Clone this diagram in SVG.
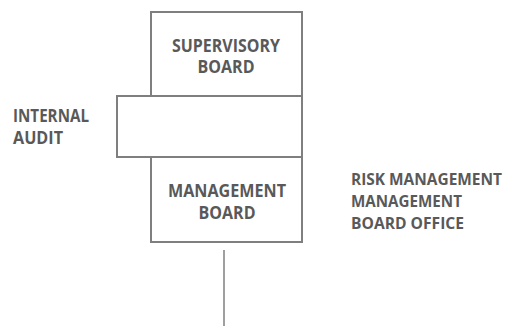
<svg xmlns="http://www.w3.org/2000/svg" width="510" height="326" viewBox="0 0 510 326">
  <style>
    .box { fill: #ffffff; stroke: #7f7f7f; stroke-width: 2; }
    .lbl { font-family: "Open Sans", "Lato", "Liberation Sans", sans-serif; font-weight: bold; font-size: 17px; fill: #595959; }
    .side { font-size: 15.5px; }
    .mid { text-anchor: middle; }
    .line { stroke: #7f7f7f; stroke-width: 1.5; fill: none; }
  </style>
  <rect width="510" height="326" fill="#ffffff"/>

  <g id="connectors">
    <line class="line" x1="224" y1="250" x2="224" y2="326"/>
  </g>

  <g id="internal-audit-frame">
    <rect class="box" x="117" y="96" width="185" height="61"/>
  </g>

  <g id="supervisory-board">
    <rect class="box" x="151" y="12" width="151" height="84"/>
    <text class="lbl mid" x="226" y="51.5" textLength="108" lengthAdjust="spacingAndGlyphs">SUPERVISORY</text>
    <text class="lbl mid" x="226" y="73" textLength="57" lengthAdjust="spacingAndGlyphs">BOARD</text>
  </g>

  <g id="management-board">
    <rect class="box" x="151" y="157" width="151" height="85"/>
    <text class="lbl mid" x="227" y="196.5" textLength="118" lengthAdjust="spacingAndGlyphs">MANAGEMENT</text>
    <text class="lbl mid" x="227" y="218.5" textLength="57" lengthAdjust="spacingAndGlyphs">BOARD</text>
  </g>

  <g id="internal-audit">
    <text class="lbl" x="13" y="122" textLength="76" lengthAdjust="spacingAndGlyphs">INTERNAL</text>
    <text class="lbl" x="13" y="144" textLength="50" lengthAdjust="spacingAndGlyphs">AUDIT</text>
  </g>

  <g id="staff-units">
    <text class="lbl side" x="351" y="185" textLength="151" lengthAdjust="spacingAndGlyphs">RISK MANAGEMENT</text>
    <text class="lbl side" x="351" y="207" textLength="111" lengthAdjust="spacingAndGlyphs">MANAGEMENT</text>
    <text class="lbl side" x="351" y="229" textLength="113" lengthAdjust="spacingAndGlyphs">BOARD OFFICE</text>
  </g>
</svg>
